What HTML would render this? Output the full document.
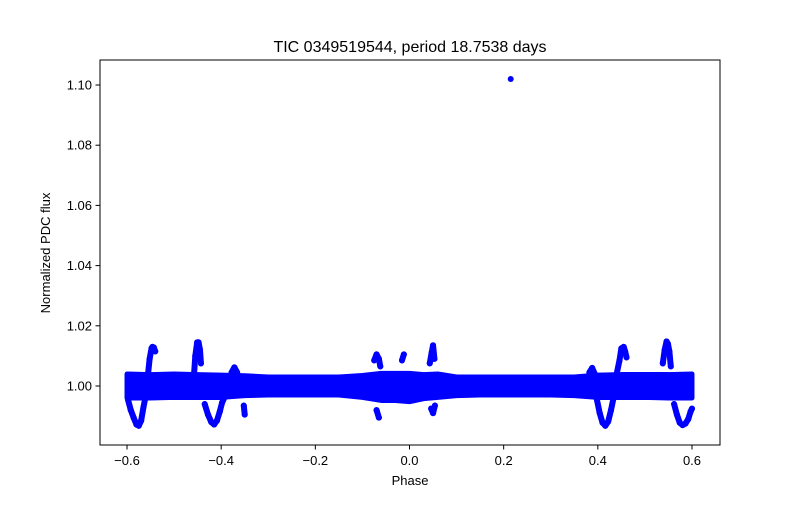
<!DOCTYPE html>
<html><head><meta charset="utf-8"><style>
body{margin:0;background:#fff;font-family:"Liberation Sans",sans-serif}
svg text{font-family:"Liberation Sans",sans-serif}
</style></head><body>
<svg id="chart" width="800" height="500" viewBox="0 0 800 500">
<rect width="800" height="500" fill="#fff"/>
<text x="410" y="52" text-anchor="middle" font-size="16">TIC 0349519544, period 18.7538 days</text>
<g id="marks"></g>
<rect x="100" y="60" width="620" height="385" fill="none" stroke="#000" stroke-width="1"/>
<g id="axes"></g>
<text x="410" y="485" text-anchor="middle" font-size="13">Phase</text>
<text transform="translate(50,253) rotate(-90)" text-anchor="middle" font-size="13">Normalized PDC flux</text>
</svg>
<script>
const xTicks=[-0.6,-0.4,-0.2,0.0,0.2,0.4,0.6];
const xTickLabels=["\u22120.6","\u22120.4","\u22120.2","0.0","0.2","0.4","0.6"];
const yTicks=[1.00,1.02,1.04,1.06,1.08,1.10];
const yTickLabels=["1.00","1.02","1.04","1.06","1.08","1.10"];
// band envelope
const bandPhase=[-0.6,-0.55,-0.5,-0.45,-0.4,-0.35,-0.3,-0.25,-0.2,-0.15,-0.1,-0.06,-0.03,0.0,0.03,0.06,0.1,0.15,0.2,0.25,0.3,0.35,0.4,0.45,0.5,0.55,0.6];
const bandHi=[1.0040,1.0038,1.0040,1.0038,1.0036,1.0034,1.0030,1.0030,1.0030,1.0030,1.0035,1.0042,1.0042,1.0042,1.0038,1.0040,1.0030,1.0030,1.0030,1.0030,1.0030,1.0030,1.0036,1.0038,1.0038,1.0038,1.0040];
const bandLo=[0.9960,0.9960,0.9962,0.9962,0.9962,0.9968,0.9970,0.9970,0.9970,0.9970,0.9962,0.9952,0.9952,0.9948,0.9958,0.9962,0.9968,0.9970,0.9970,0.9970,0.9970,0.9968,0.9962,0.9962,0.9962,0.9960,0.9960];
// feature point series
const featPhase=[-0.598,-0.592,-0.586,-0.580,-0.575,-0.570,-0.565,-0.560,-0.556,-0.552,-0.548,-0.546,-0.543,-0.540,
 -0.458,-0.455,-0.451,-0.448,-0.445,-0.443,
 -0.435,-0.428,-0.421,-0.415,-0.409,-0.403,-0.398,-0.392,
 -0.378,-0.372,-0.366,-0.352,-0.350,
 -0.075,-0.070,-0.065,-0.062,-0.070,-0.065,-0.016,-0.012,
 0.043,0.047,0.050,0.053,0.046,0.050,0.054,
 0.382,0.388,0.395,
 0.398,0.404,0.410,0.416,0.422,0.428,0.434,0.440,
 0.446,0.450,0.455,0.458,0.461,
 0.538,0.542,0.546,0.549,0.552,0.555,
 0.562,0.568,0.574,0.580,0.586,0.592,0.597,0.600];
const featFlux=[0.9955,0.992,0.9895,0.9872,0.9868,0.9885,0.993,0.997,1.003,1.009,1.0125,1.013,1.0128,1.0115,
 1.003,1.010,1.0145,1.0145,1.012,1.0075,
 0.994,0.9905,0.988,0.9872,0.9885,0.9915,0.9945,0.9965,
 1.0045,1.0062,1.0045,0.9935,0.9905,
 1.0085,1.0105,1.009,1.0065,0.992,0.9895,1.0085,1.0105,
 1.0075,1.011,1.0135,1.009,0.9925,0.991,0.9935,
 1.0045,1.006,1.0035,
 0.9955,0.991,0.9878,0.9868,0.9882,0.992,0.9965,1.004,
 1.0085,1.0125,1.013,1.0115,1.0095,
 1.0075,1.012,1.0148,1.0140,1.0115,1.0065,
 0.994,0.9905,0.9878,0.987,0.9875,0.989,0.9915,0.9925];
const outPhase=[0.215];
const outFlux=[1.102];

const NS="http://www.w3.org/2000/svg";
const X=p=>409.5+p*470.8;
const Y=f=>386-(f-1)*3010;
const marks=document.getElementById('marks');
const axes=document.getElementById('axes');
let d="M"+X(bandPhase[0])+","+Y(bandHi[0]);
for(let i=1;i<bandPhase.length;i++) d+=" L"+X(bandPhase[i])+","+Y(bandHi[i]);
for(let i=bandPhase.length-1;i>=0;i--) d+=" L"+X(bandPhase[i])+","+Y(bandLo[i]);
d+=" Z";
const band=document.createElementNS(NS,'path');
band.setAttribute('d',d);band.setAttribute('fill','#0000ff');band.setAttribute('stroke','#0000ff');band.setAttribute('stroke-width','5');band.setAttribute('stroke-linejoin','round');


marks.appendChild(band);
function dot(p,f,name){
 const c=document.createElementNS(NS,'circle');
 c.setAttribute('cx',X(p));c.setAttribute('cy',Y(f));c.setAttribute('r',3);c.setAttribute('fill','#0000ff');
 
 
 marks.appendChild(c);
}
function line(p1,f1,p2,f2){
 const l=document.createElementNS(NS,'line');
 l.setAttribute('x1',X(p1));l.setAttribute('y1',Y(f1));l.setAttribute('x2',X(p2));l.setAttribute('y2',Y(f2));
 l.setAttribute('stroke','#0000ff');l.setAttribute('stroke-width','6');l.setAttribute('stroke-linecap','round');
 
 
 marks.appendChild(l);
}
for(let i=0;i<featPhase.length;i++){
 dot(featPhase[i],featFlux[i],'feature-point');
 if(i>0 && Math.abs(featPhase[i]-featPhase[i-1])<0.009 && Math.abs(featFlux[i]-featFlux[i-1])<0.0075) line(featPhase[i-1],featFlux[i-1],featPhase[i],featFlux[i]);
}
for(let i=0;i<outPhase.length;i++) dot(outPhase[i],outFlux[i],'outlier-point');
xTicks.forEach((t,i)=>{
 const l=document.createElementNS(NS,'line');
 l.setAttribute('x1',X(t));l.setAttribute('x2',X(t));l.setAttribute('y1',445);l.setAttribute('y2',449.5);l.setAttribute('stroke','#000');
 
 
 axes.appendChild(l);
 const tx=document.createElementNS(NS,'text');
 tx.setAttribute('x',X(t));tx.setAttribute('y',465);tx.setAttribute('text-anchor','middle');tx.setAttribute('font-size','13');
 tx.textContent=xTickLabels[i];
 
 
 axes.appendChild(tx);
});
yTicks.forEach((t,i)=>{
 const l=document.createElementNS(NS,'line');
 l.setAttribute('x1',95.5);l.setAttribute('x2',100);l.setAttribute('y1',Y(t));l.setAttribute('y2',Y(t));l.setAttribute('stroke','#000');
 
 
 axes.appendChild(l);
 const tx=document.createElementNS(NS,'text');
 tx.setAttribute('x',92);tx.setAttribute('y',Y(t)+4.5);tx.setAttribute('text-anchor','end');tx.setAttribute('font-size','13');
 tx.textContent=yTickLabels[i];
 
 
 axes.appendChild(tx);
});
</script>
</body></html>
